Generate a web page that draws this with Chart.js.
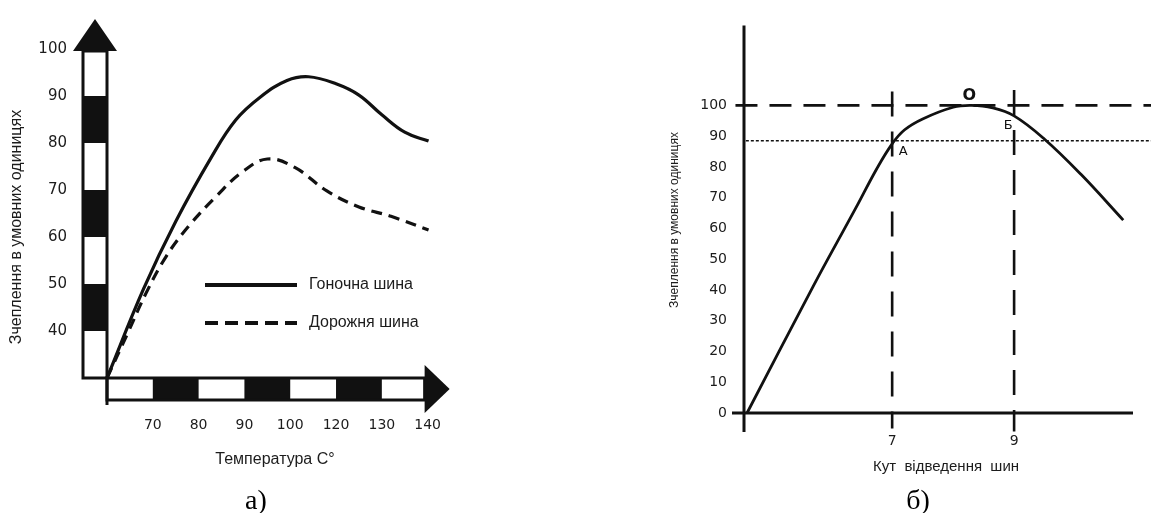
<!DOCTYPE html>
<html><head><meta charset="utf-8">
<script src="https://cdn.jsdelivr.net/npm/chart.js@4/dist/chart.umd.min.js"></script>
<style>
html,body{margin:0;padding:0;background:#fff;width:1151px;height:513px;overflow:hidden;}
#wa{position:absolute;left:0;top:0;width:480px;height:513px;}
#wb{position:absolute;left:640px;top:0;width:511px;height:513px;}
canvas{display:block;}
</style></head><body>
<div id="wa"><canvas id="ca" width="480" height="513"></canvas></div>
<div id="wb"><canvas id="cb" width="511" height="513"></canvas></div>
<script>
// ---------- Chart а): grip vs temperature ----------
const tempLabels = ['70','80','90','100','120','130','140'];
const tempPos    = [1, 2, 3, 4, 5, 6, 7];           // label slots along the temperature bar
const gripTicksA = [40, 50, 60, 70, 80, 90, 100];
const racingX = [0, 0.8, 1.5, 2.28, 2.81, 3.35, 3.93, 4.4, 5.0, 5.5, 6.0, 6.5, 7.02];
const racingY = [30, 49, 63.3, 77, 84.9, 89.8, 93.3, 94.1, 92.6, 90.2, 86, 82.3, 80.4];
const roadX   = [0, 0.45, 0.85, 1.3, 1.8, 2.4, 2.95, 3.5, 4.1, 4.8, 5.5, 6.2, 7.02];
const roadY   = [30, 39.5, 48, 56, 62.5, 68.8, 73.8, 76.6, 74.8, 69.8, 66.4, 64.4, 61.5];
const legendA = ['Гоночна шина', 'Дорожня шина'];

// ---------- Chart б): grip vs slip angle ----------
const angleTicks = [7, 9];
const gripTicksB = [0, 10, 20, 30, 40, 50, 60, 70, 80, 90, 100];
const angleX = [4.62, 5.7, 6.4, 6.75, 7.0, 7.2, 7.5, 8.0, 8.3, 8.65, 9.0, 9.5, 10.1, 10.79];
const gripY  = [0, 41, 66.5, 79.5, 87.5, 92, 95.6, 99.4, 100, 99.2, 96.6, 89, 77.5, 62.7];
const maxGrip = [100];
const levelA  = [88.5];
const angleA  = [7];
const angleB  = [9];
const pointLabels = ['О', 'А', 'Б'];

const INK = '#111';
const TXT = '#1c1c1c';
const tickFontA = {family: 'DejaVu Sans', size: 15};
const tickFontAx = {family: 'DejaVu Sans', size: 14};
const tickFontB = {family: 'DejaVu Sans', size: 14};

function pts(xs, ys){ return xs.map((v,i)=>({x:v, y:ys[i]})); }

// ---- plugin for chart а)
const decoA = {
  id: 'decoA',
  beforeDatasetsDraw(chart){
    const {ctx, chartArea:a, scales:{x, y}} = chart;
    ctx.save();
    ctx.lineJoin = 'miter';
    // vertical striped bar
    const bw = 24, bx = a.left - bw;
    const yTop = y.getPixelForValue(gripTicksA[gripTicksA.length-1]) + 2;
    ctx.fillStyle = '#fff';
    ctx.fillRect(bx, yTop, bw, a.bottom - yTop);
    ctx.fillStyle = INK;
    for (let i = gripTicksA.length-2; i > 0; i -= 2) {
      const hi = gripTicksA[i], lo = gripTicksA[i-1];
      const p1 = y.getPixelForValue(hi), p0 = y.getPixelForValue(lo);
      ctx.fillRect(bx, p1, bw, p0 - p1);
    }
    ctx.strokeStyle = INK; ctx.lineWidth = 3;
    ctx.strokeRect(bx, yTop, bw, a.bottom - yTop);
    // arrow head up
    ctx.beginPath();
    ctx.moveTo(bx - 10, yTop); ctx.lineTo(a.left + 10, yTop); ctx.lineTo(bx + bw/2, yTop - 32); ctx.closePath();
    ctx.fill();
    // horizontal striped bar
    const bh = 22;
    const xEnd = x.getPixelForValue(tempPos[tempPos.length-1]) - 3;
    ctx.fillStyle = '#fff';
    ctx.fillRect(a.left, a.bottom, xEnd - a.left, bh);
    ctx.fillStyle = INK;
    const stops = [0].concat(tempPos);
    for (let i = 1; i < stops.length-1; i += 2) {
      const p0 = x.getPixelForValue(stops[i]), p1 = x.getPixelForValue(stops[i+1]);
      ctx.fillRect(p0, a.bottom, p1 - p0, bh);
    }
    ctx.strokeRect(a.left, a.bottom, xEnd - a.left, bh);
    ctx.beginPath();
    ctx.moveTo(xEnd, a.bottom - 13); ctx.lineTo(xEnd, a.bottom + bh + 13); ctx.lineTo(xEnd + 25, a.bottom + bh/2); ctx.closePath();
    ctx.fill();
    ctx.beginPath(); ctx.moveTo(a.left, a.bottom); ctx.lineTo(a.left, a.bottom + bh + 5); ctx.stroke();
    ctx.restore();
  },
  afterDraw(chart){
    const {ctx} = chart;
    ctx.save();
    // legend
    const ds = chart.data.datasets;
    const rows = [285, 323];
    ds.forEach((d, i) => {
      ctx.strokeStyle = INK; ctx.lineWidth = 4;
      ctx.setLineDash(i === 0 ? [] : [13, 7]);
      ctx.beginPath(); ctx.moveTo(205, rows[i]); ctx.lineTo(297, rows[i]); ctx.stroke();
      ctx.setLineDash([]);
      ctx.fillStyle = TXT; ctx.font = '16px "Liberation Sans"';
      ctx.textAlign = 'left'; ctx.textBaseline = 'middle';
      ctx.fillText(legendA[i], 309, rows[i]);
    });
    // titles
    ctx.fillStyle = TXT;
    ctx.font = '16px "Liberation Sans"';
    ctx.textAlign = 'center'; ctx.textBaseline = 'middle';
    ctx.fillText('Температура C°', 275, 460);
    ctx.save(); ctx.translate(17, 227); ctx.rotate(-Math.PI/2);
    ctx.fillText('Зчеплення в умовних одиницях', 0, 0); ctx.restore();
    ctx.fillStyle = '#000';
    ctx.font = '28px "Liberation Serif"';
    ctx.textBaseline = 'alphabetic';
    ctx.fillText('а)', 256, 509);
    ctx.restore();
  }
};

new Chart(document.getElementById('ca'), {
  type: 'line',
  data: { datasets: [
    {label: legendA[0], data: pts(racingX, racingY), borderColor: INK, borderWidth: 3.2, pointRadius: 0,
     tension: 0.4, clip: false, fill: false},
    {label: legendA[1], data: pts(roadX, roadY), borderColor: INK, borderWidth: 3.2, borderDash: [11, 7], pointRadius: 0,
     tension: 0.4, clip: false, fill: false}
  ]},
  options: {
    responsive: false, animation: false, devicePixelRatio: 1, events: [],
    layout: {padding: {left: 0, top: 43, right: 42, bottom: 0}},
    plugins: {legend: {display: false}, tooltip: {enabled: false}},
    scales: {
      x: {type: 'linear', min: 0, max: 7,
          grid: {display: false, drawTicks: false}, border: {display: false},
          afterFit(s){ s.height = 135; },
          afterBuildTicks(s){ s.ticks = tempPos.map(v => ({value: v})); },
          ticks: {autoSkip: false, maxRotation: 0, padding: 39, color: TXT, font: tickFontAx,
                  callback: (v) => { const k = tempPos.indexOf(v); return k >= 0 ? tempLabels[k] : ''; }}},
      y: {type: 'linear', min: 30, max: 100,
          grid: {display: false, drawTicks: false}, border: {display: false},
          afterFit(s){ s.width = 107; },
          afterBuildTicks(s){ s.ticks = gripTicksA.map(v => ({value: v})); },
          ticks: {padding: 40, color: TXT, font: tickFontA}}
    }
  },
  plugins: [decoA]
});

// ---- plugin for chart б)
const decoB = {
  id: 'decoB',
  afterDatasetsDraw(chart){
    const {ctx, chartArea:a, scales:{x, y}} = chart;
    ctx.save();
    ctx.strokeStyle = INK; ctx.lineWidth = 3;
    ctx.beginPath(); ctx.moveTo(a.left, a.top); ctx.lineTo(a.left, a.bottom + 19); ctx.stroke();
    ctx.beginPath(); ctx.moveTo(a.left - 12, a.bottom); ctx.lineTo(a.right, a.bottom); ctx.stroke();
    // point labels
    ctx.fillStyle = INK; ctx.textAlign = 'center'; ctx.textBaseline = 'middle';
    const iPeak = gripY.indexOf(Math.max(...gripY));
    ctx.font = 'bold 16px "DejaVu Sans"';
    ctx.fillText(pointLabels[0], x.getPixelForValue(angleX[iPeak]) - 2, y.getPixelForValue(maxGrip[0]) - 10);
    ctx.font = '13px "DejaVu Sans"';
    ctx.fillText(pointLabels[1], x.getPixelForValue(angleA[0]) + 11, y.getPixelForValue(levelA[0]) + 11);
    ctx.fillText(pointLabels[2], x.getPixelForValue(angleB[0]) - 6, y.getPixelForValue(maxGrip[0]) + 20);
    // titles
    ctx.fillStyle = TXT;
    ctx.font = '15px "Liberation Sans"';
    ctx.fillText('Кут  відведення  шин', 306, 467);
    ctx.font = '12px "Liberation Sans"';
    ctx.save(); ctx.translate(35, 220); ctx.rotate(-Math.PI/2);
    ctx.fillText('Зчеплення в умовних одиницях', 0, 0); ctx.restore();
    ctx.fillStyle = '#000';
    ctx.font = '28px "Liberation Serif"';
    ctx.textBaseline = 'alphabetic';
    ctx.fillText('б)', 278, 509);
    ctx.restore();
  }
};

const xLo = 4.43, xHi = 11.25;
new Chart(document.getElementById('cb'), {
  type: 'line',
  data: { datasets: [
    {data: pts(angleX, gripY), borderColor: INK, borderWidth: 2.8, pointRadius: 0,
     tension: 0.4, clip: false, fill: false},
    {data: [{x: xLo, y: maxGrip[0]}, {x: xHi, y: maxGrip[0]}], borderColor: INK, borderWidth: 2.6,
     borderDash: [22, 12], pointRadius: 0, tension: 0, clip: false, fill: false},
    {data: [{x: 4.6, y: levelA[0]}, {x: xHi, y: levelA[0]}], borderColor: INK, borderWidth: 1.5,
     borderDash: [3, 2], pointRadius: 0, tension: 0, clip: false, fill: false},
    {data: [{x: angleA[0], y: 104.5}, {x: angleA[0], y: -5}], borderColor: INK, borderWidth: 2.6,
     borderDash: [25, 15], pointRadius: 0, tension: 0, clip: false, fill: false},
    {data: [{x: angleB[0], y: 105}, {x: angleB[0], y: -6}], borderColor: INK, borderWidth: 2.6,
     borderDash: [25, 15], pointRadius: 0, tension: 0, clip: false, fill: false}
  ]},
  options: {
    responsive: false, animation: false, devicePixelRatio: 1, events: [],
    layout: {padding: {left: 0, top: 21, right: 18, bottom: 0}},
    plugins: {legend: {display: false}, tooltip: {enabled: false}},
    scales: {
      x: {type: 'linear', min: 4.57, max: 10.95,
          grid: {display: false, drawTicks: false}, border: {display: false},
          afterFit(s){ s.height = 100; },
          afterBuildTicks(s){ s.ticks = angleTicks.map(v => ({value: v})); },
          ticks: {autoSkip: false, maxRotation: 0, padding: 20, color: TXT, font: tickFontB}},
      y: {type: 'linear', min: 0, max: 126,
          grid: {display: false, drawTicks: false}, border: {display: false},
          afterFit(s){ s.width = 104; },
          afterBuildTicks(s){ s.ticks = gripTicksB.map(v => ({value: v})); },
          ticks: {padding: 17, color: TXT, font: tickFontB}}
    }
  },
  plugins: [decoB]
});
</script>
</body></html>
